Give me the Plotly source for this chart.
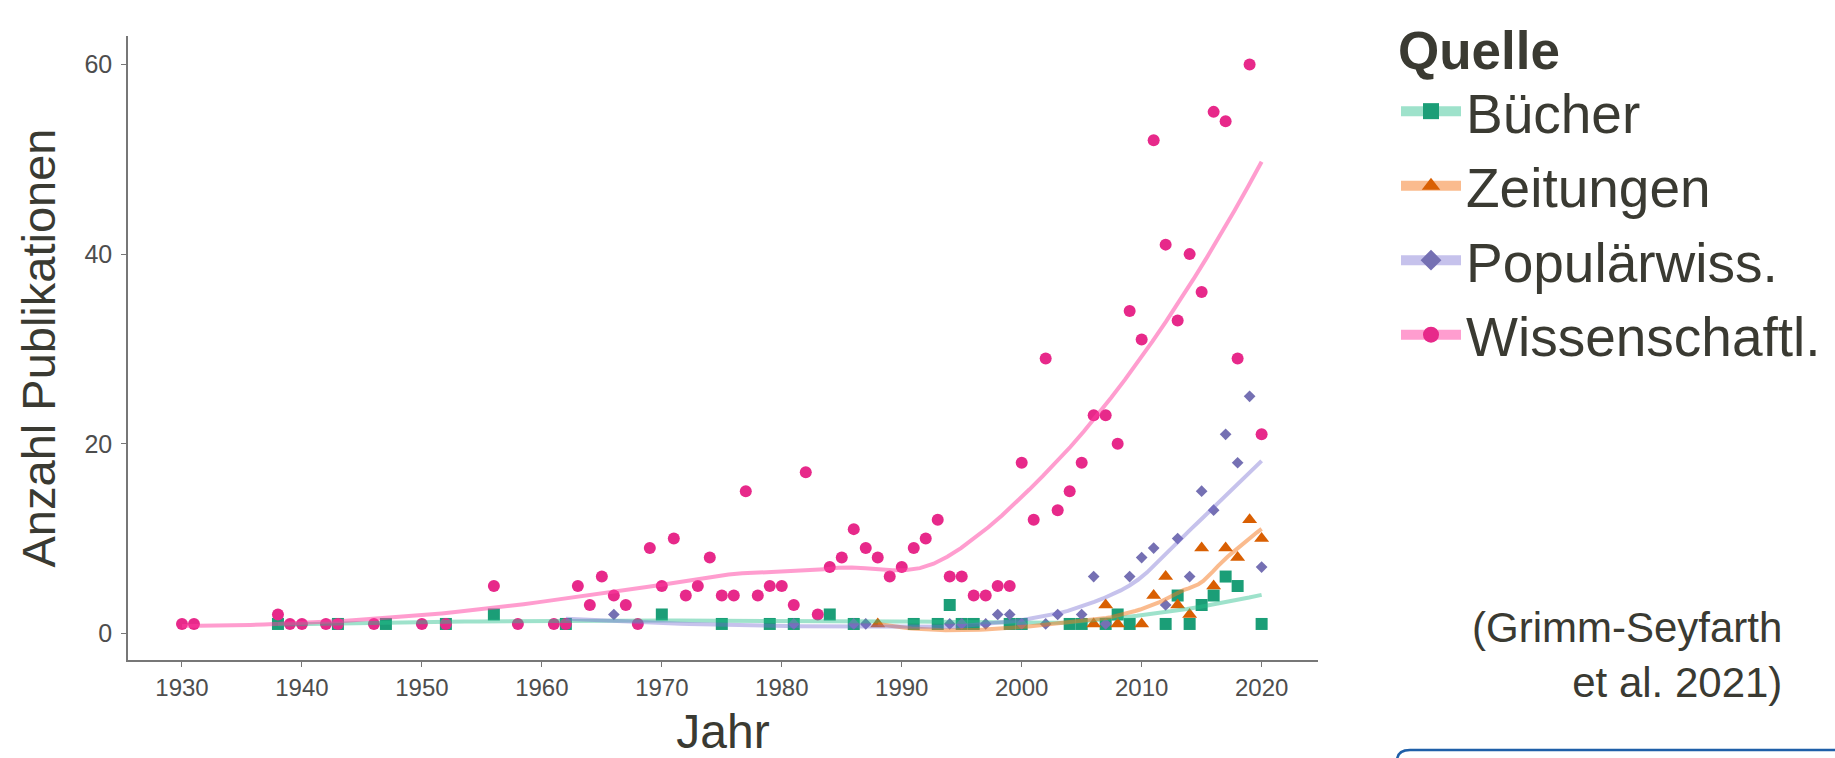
import numpy as np
import plotly.graph_objects as go

# ---- data ----
buecher_years = [1938, 1943, 1947, 1952, 1956, 1962, 1970, 1975, 1979, 1981, 1984, 1986, 1991, 1993,
                 1994, 1995, 1996, 1999, 2000, 2004, 2005, 2007, 2008, 2009, 2012, 2013, 2014, 2015,
                 2016, 2017, 2018, 2020]
buecher_vals = [1, 1, 1, 1, 2, 1, 2, 1, 1, 1, 2, 1, 1, 1,
                3, 1, 1, 1, 1, 1, 1, 1, 2, 1, 1, 4, 1, 3,
                4, 6, 5, 1]

zeitungen_years = [1988, 2006, 2007, 2008, 2010, 2011, 2012, 2013, 2014, 2015, 2016, 2017, 2018, 2019, 2020]
zeitungen_vals = [1, 1, 3, 1, 1, 4, 6, 3, 2, 9, 5, 9, 8, 12, 10]

popwiss_years = [1962, 1966, 1981, 1986, 1987, 1994, 1995, 1997, 1998, 1999, 2000, 2002, 2003, 2005,
                 2006, 2007, 2009, 2010, 2011, 2012, 2013, 2014, 2015, 2016, 2017, 2018, 2019, 2020]
popwiss_vals = [1, 2, 1, 1, 1, 1, 1, 1, 2, 2, 1, 1, 2, 2,
                6, 1, 6, 8, 9, 3, 10, 6, 15, 13, 21, 18, 25, 7]

wiss_years = [1930, 1931, 1938, 1939, 1940, 1942, 1943, 1946, 1950, 1952, 1956, 1958, 1961, 1962,
              1963, 1964, 1965, 1966, 1967, 1968, 1969, 1970, 1971, 1972, 1973, 1974, 1975, 1976,
              1977, 1978, 1979, 1980, 1981, 1982, 1983, 1984, 1985, 1986, 1987, 1988, 1989, 1990,
              1991, 1992, 1993, 1994, 1995, 1996, 1997, 1998, 1999, 2000, 2001, 2002, 2003, 2004,
              2005, 2006, 2007, 2008, 2009, 2010, 2011, 2012, 2013, 2014, 2015, 2016, 2017, 2018,
              2019, 2020]
wiss_vals = [1, 1, 2, 1, 1, 1, 1, 1, 1, 1, 5, 1, 1, 1,
             5, 3, 6, 4, 3, 1, 9, 5, 10, 4, 5, 8, 4, 4,
             15, 4, 5, 5, 3, 17, 2, 7, 8, 11, 9, 8, 6, 7,
             9, 10, 12, 6, 6, 4, 4, 5, 5, 18, 12, 29, 13, 15,
             18, 23, 23, 20, 34, 31, 52, 41, 33, 40, 36, 55, 54, 29,
             60, 21]

series_names = ["Bücher", "Zeitungen", "Populärwiss.", "Wissenschaftl."]
x_ticks = [1930, 1940, 1950, 1960, 1970, 1980, 1990, 2000, 2010, 2020]
y_ticks = [0, 20, 40, 60]

# ---- styles ----
colors = ["#1b9e77", "#d95f02", "#7570b3", "#e7298a"]
line_colors = ["rgba(40,190,140,0.45)", "rgba(245,120,30,0.5)", "rgba(120,110,210,0.42)", "rgba(255,60,160,0.5)"]
symbols = ["square", "triangle-up", "diamond", "circle"]
sizes = [12, 13, 9, 12]
FONT = "Arial, Liberation Sans, sans-serif"
TXT = "#3a3a32"


def _local_fit(x, y, x0, q):
    """Weighted local quadratic fit at x0 (tricube weights); returns value and slope."""
    d = np.abs(x - x0)
    h = np.sort(d)[q - 1]
    w = np.clip(1 - (d / h) ** 3, 0, None) ** 3
    xc = x - x0
    A = np.vstack([np.ones(len(x)), xc, xc ** 2]).T
    sw = np.sqrt(w)
    coef, *_ = np.linalg.lstsq(A * sw[:, None], y * sw, rcond=None)
    return coef[0], coef[1]


def loess(x, y, xs, span=0.75, cell=0.2):
    """loess (degree 2) with kd-tree vertices + cubic Hermite interpolation, like R's default."""
    order = np.argsort(x)
    x = np.asarray(x, float)[order]
    y = np.asarray(y, float)[order]
    n = len(x)
    q = int(np.floor(n * span))
    fc = int(np.floor(n * span * cell))
    mu = 0.005 * (x.max() - x.min())
    lo, hi = x.min() - mu, x.max() + mu
    verts = {lo, hi}

    def split(pts, a, b):
        if len(pts) <= fc:
            return
        m = (1 + len(pts)) // 2
        s = pts[m - 1]
        if s == a or s == b:
            return
        verts.add(s)
        split(pts[:m], a, s)
        split(pts[m:], s, b)

    split(list(x), lo, hi)
    v = np.array(sorted(verts))
    fits = np.array([_local_fit(x, y, vv, q) for vv in v])
    out = []
    for x0 in xs:
        i = min(max(np.searchsorted(v, x0) - 1, 0), len(v) - 2)
        a, b = v[i], v[i + 1]
        hlen = b - a
        t = (x0 - a) / hlen
        h00 = 2 * t ** 3 - 3 * t ** 2 + 1
        h10 = t ** 3 - 2 * t ** 2 + t
        h01 = -2 * t ** 3 + 3 * t ** 2
        h11 = t ** 3 - t ** 2
        out.append(h00 * fits[i, 0] + h10 * hlen * fits[i, 1] + h01 * fits[i + 1, 0] + h11 * hlen * fits[i + 1, 1])
    return np.array(out)


all_series = [
    (buecher_years, buecher_vals),
    (zeitungen_years, zeitungen_vals),
    (popwiss_years, popwiss_vals),
    (wiss_years, wiss_vals),
]

fig = go.Figure()
# legend entries (large symbols with the smoothing line behind, like the original key)
for i in range(4):
    fig.add_trace(go.Scatter(
        x=[None], y=[None], mode="lines+markers", name=series_names[i], legendgroup=series_names[i],
        marker=dict(symbol=symbols[i], size=30, color=colors[i]),
        line=dict(color=line_colors[i], width=10),
    ))
for i, (xs, ys) in enumerate(all_series):
    fig.add_trace(go.Scatter(
        x=xs, y=ys, mode="markers", name=series_names[i], showlegend=False,
        marker=dict(symbol=symbols[i], size=sizes[i], color=colors[i], line=dict(width=0)),
        legendgroup=series_names[i],
    ))
for i, (xs, ys) in enumerate(all_series):
    grid = np.linspace(min(xs), max(xs), 80)
    fig.add_trace(go.Scatter(
        x=grid, y=loess(xs, ys, grid), mode="lines", showlegend=False,
        line=dict(color=line_colors[i], width=4),
        legendgroup=series_names[i], hoverinfo="skip",
    ))

W, H = 1835, 758
L, R, T, B = 128, W - 1318, 36, H - 660


def px_x(p):
    return (p - L) / (W - L - R)


def px_y(p):
    return (H - B - p) / (H - T - B)


fig.update_layout(
    width=W, height=H,
    margin=dict(l=L, r=R, t=T, b=B, autoexpand=False),
    paper_bgcolor="white", plot_bgcolor="white",
    font=dict(family=FONT, color=TXT),
    xaxis=dict(
        range=[1925.5, 2024.7], tickvals=x_ticks, showgrid=False, zeroline=False,
        showline=True, linecolor="#777777", linewidth=1.5, automargin=False,
        ticks="outside", ticklen=5, tickcolor="#777777",
        tickfont=dict(size=24, color="#4d4d4d"), ticklabelstandoff=0,
        title=dict(text="Jahr", font=dict(size=48, color=TXT), standoff=27),
    ),
    yaxis=dict(
        range=[-2.8, 63], tickvals=y_ticks, showgrid=False, zeroline=False,
        showline=True, linecolor="#777777", linewidth=1.5, automargin=False,
        ticks="outside", ticklen=5, tickcolor="#777777",
        tickfont=dict(size=25, color="#4d4d4d"), ticklabelstandoff=4,
        title=dict(text="Anzahl Publikationen", font=dict(size=47, color=TXT), standoff=14),
    ),
    legend=dict(
        title=dict(text="<b>Quelle</b>", font=dict(size=53, color=TXT)),
        font=dict(size=55, color=TXT),
        xref="container", yref="container",
        x=1396 / W, y=1.0, xanchor="left", yanchor="top",
        itemsizing="trace", itemwidth=60, bgcolor="rgba(0,0,0,0)", tracegroupgap=0,
        maxheight=740,
    ),
    annotations=[dict(
        text="(Grimm-Seyfarth<br>et al. 2021)", xref="paper", yref="paper",
        x=px_x(1784), y=px_y(655), xanchor="right", yanchor="middle", align="right",
        showarrow=False, font=dict(size=42, color=TXT),
    )],
    shapes=[dict(
        type="path", xref="paper", yref="paper",
        path=(f"M {px_x(1397)},{px_y(770)} L {px_x(1397)},{px_y(761)} "
              f"Q {px_x(1397)},{px_y(750)} {px_x(1410)},{px_y(750)} L {px_x(1850)},{px_y(750)}"),
        line=dict(color="#1f5fa8", width=2.5),
    )],
)

fig.write_html(
    "out.html",
    config={"displayModeBar": False},
    post_script="document.body.style.margin='0';document.body.style.overflow='hidden';",
)
